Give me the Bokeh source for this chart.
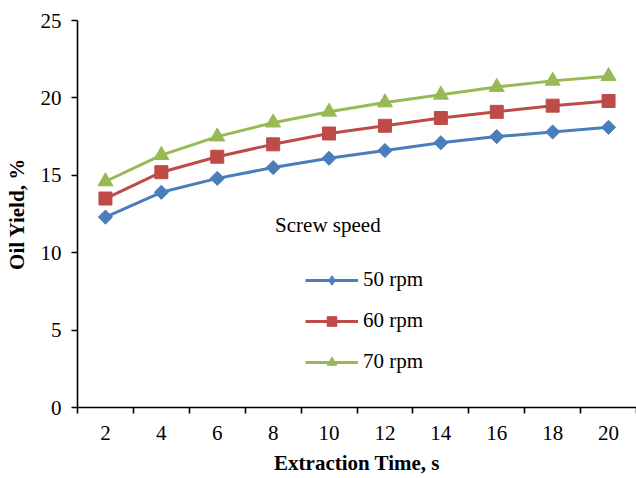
import math
from bokeh.plotting import figure
from bokeh.models import FixedTicker, Legend, LegendItem, Label, Range1d
from bokeh.embed import file_html
from bokeh.resources import INLINE

time_s = [2, 4, 6, 8, 10, 12, 14, 16, 18, 20]
rpm50 = [12.3, 13.9, 14.8, 15.5, 16.1, 16.6, 17.1, 17.5, 17.8, 18.1]
rpm60 = [13.5, 15.2, 16.2, 17.0, 17.7, 18.2, 18.7, 19.1, 19.5, 19.8]
rpm70 = [14.6, 16.3, 17.5, 18.4, 19.1, 19.7, 20.2, 20.7, 21.1, 21.4]
series_names = ["50 rpm", "60 rpm", "70 rpm"]
y_ticks = [0, 5, 10, 15, 20, 25]

FONT = "Liberation Serif"
FS = "21px"

p = figure(width=636, height=478, output_backend="svg", toolbar_location=None,
           x_range=Range1d(1, 21), y_range=Range1d(0, 25),
           min_border_left=77, min_border_right=0, min_border_top=20, min_border_bottom=71)
p.outline_line_color = None
p.xgrid.visible = False
p.ygrid.visible = False

# x axis: labels at category centres, tick marks at category boundaries
boundaries = [t - 1 for t in time_s] + [time_s[-1] + 1]
p.xaxis.ticker = FixedTicker(ticks=time_s, minor_ticks=boundaries)
p.xaxis.major_tick_out = 0
p.xaxis.major_tick_in = 0
p.xaxis.minor_tick_out = 6
p.xaxis.minor_tick_in = 0
p.xaxis.minor_tick_line_color = "black"
p.xaxis.minor_tick_line_width = 1.6
p.xaxis.major_label_standoff = 12
p.xaxis.axis_label = "Extraction Time, s"
p.xaxis.axis_label_standoff = 8

p.yaxis.ticker = FixedTicker(ticks=y_ticks, minor_ticks=[])
p.yaxis.major_tick_out = 6
p.yaxis.major_tick_in = 0
p.yaxis.major_label_standoff = 10
p.yaxis.axis_label = "Oil Yield, %"
p.yaxis.axis_label_standoff = 9

for ax in (p.xaxis, p.yaxis):
    ax.axis_line_color = "black"
    ax.axis_line_width = 1.6
    ax.major_tick_line_color = "black"
    ax.major_tick_line_width = 1.6
    ax.major_label_text_font = FONT
    ax.major_label_text_font_size = FS
    ax.major_label_text_color = "black"
    ax.axis_label_text_font = FONT
    ax.axis_label_text_font_size = FS
    ax.axis_label_text_font_style = "bold"
    ax.axis_label_text_color = "black"

colors = ["#4A7EBB", "#BE4B48", "#98B954"]
items = []
specs = [
    (rpm50, dict(marker="square", size=10, angle=math.pi / 4), dict(marker="diamond", size=12)),
    (rpm60, dict(marker="square", size=13), None),
    (rpm70, dict(marker="triangle", size=15), None),
]
for (vals, mk, legend_mk), c, name in zip(specs, colors, series_names):
    ln = p.line(time_s, vals, line_color=c, line_width=3)
    sc = p.scatter(time_s, vals, fill_color=c, line_color=c, **mk)
    if legend_mk is not None:
        # smaller diamond hidden inside the plotted marker; used for the legend key
        sc = p.scatter(time_s, vals, fill_color=c, line_color=c, **legend_mk)
    items.append(LegendItem(label=name, renderers=[ln, sc]))

legend = Legend(items=items, location=(228, 33), orientation="vertical",
                glyph_width=53, glyph_height=24, label_height=24, spacing=16,
                padding=0, margin=0, label_standoff=5,
                label_text_font=FONT, label_text_font_size=FS,
                label_text_color="black",
                border_line_alpha=0, background_fill_alpha=0)
p.add_layout(legend)

title = Label(x=8.07, y=11.8, text="Screw speed", text_font=FONT,
              text_font_size=FS, text_color="black",
              text_align="left", text_baseline="middle")
p.add_layout(title)

open("out.html", "w").write(file_html(p, INLINE))
